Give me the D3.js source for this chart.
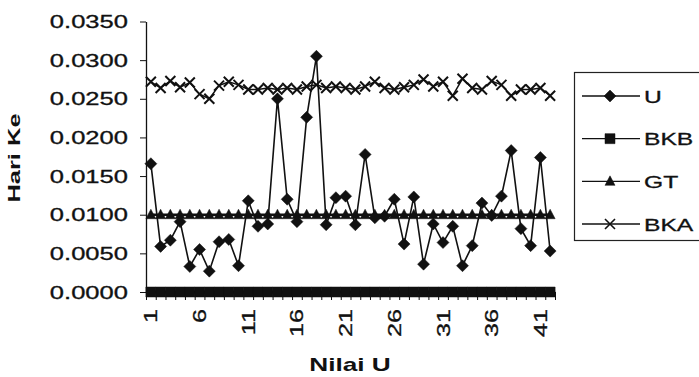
<!DOCTYPE html>
<html>
<head>
<meta charset="utf-8">
<script src="https://cdn.jsdelivr.net/npm/d3@7/dist/d3.min.js"></script>
<style>
  body { margin: 0; background: #fff; }
  svg { display: block; font-family: "Liberation Sans", Arial, sans-serif; }
</style>
</head>
<body>
<svg id="chart" width="699" height="377"></svg>
<script>
// day numbers on the category axis
var days = [1, 2, 3, 4, 5, 6, 7, 8, 9, 10, 11, 12, 13, 14, 15, 16, 17, 18, 19, 20, 21,
            22, 23, 24, 25, 26, 27, 28, 29, 30, 31, 32, 33, 34, 35, 36, 37, 38, 39, 40, 41, 42];

var seriesU = [0.0166, 0.0059, 0.0067, 0.0091, 0.0033, 0.0055, 0.0027, 0.0065, 0.0068, 0.0034,
               0.0118, 0.0085, 0.0088, 0.0250, 0.0120, 0.0091, 0.0226, 0.0305, 0.0087, 0.0122,
               0.0124, 0.0087, 0.0178, 0.0096, 0.0098, 0.0120, 0.0062, 0.0123, 0.0036, 0.0088,
               0.0064, 0.0085, 0.0034, 0.0060, 0.0115, 0.0099, 0.0124, 0.0183, 0.0082, 0.0060,
               0.0174, 0.0053];

var seriesBKB = [0, 0, 0, 0, 0, 0, 0, 0, 0, 0, 0, 0, 0, 0, 0, 0, 0, 0, 0, 0, 0,
                 0, 0, 0, 0, 0, 0, 0, 0, 0, 0, 0, 0, 0, 0, 0, 0, 0, 0, 0, 0, 0];

var seriesGT = [0.01, 0.01, 0.01, 0.01, 0.01, 0.01, 0.01, 0.01, 0.01, 0.01, 0.01, 0.01, 0.01, 0.01,
                0.01, 0.01, 0.01, 0.01, 0.01, 0.01, 0.01, 0.01, 0.01, 0.01, 0.01, 0.01, 0.01, 0.01,
                0.01, 0.01, 0.01, 0.01, 0.01, 0.01, 0.01, 0.01, 0.01, 0.01, 0.01, 0.01, 0.01, 0.01];

var seriesBKA = [0.0272, 0.0264, 0.0273, 0.0265, 0.0271, 0.0256, 0.0250, 0.0267, 0.0272, 0.0268,
                 0.0262, 0.0262, 0.0264, 0.0262, 0.0264, 0.0262, 0.0266, 0.0268, 0.0264, 0.0266,
                 0.0264, 0.0262, 0.0266, 0.0272, 0.0264, 0.0262, 0.0265, 0.0268, 0.0275, 0.0266,
                 0.0272, 0.0254, 0.0276, 0.0264, 0.0262, 0.0273, 0.0268, 0.0254, 0.0262, 0.0262,
                 0.0264, 0.0254];

var yTicks = [0, 0.005, 0.010, 0.015, 0.020, 0.025, 0.030, 0.035];
var xLabels = [1, 6, 11, 16, 21, 26, 31, 36, 41];
var legendNames = ["U", "BKB", "GT", "BKA"];

var svg = d3.select("#chart");

var x = d3.scaleLinear().domain([0.5, 42.5]).range([146, 555]);
var y = d3.scaleLinear().domain([0, 0.035]).range([292, 21.5]);
var fmt = d3.format(".4f");

// marker shapes
var markers = {
    U: "M0,-6L6,0L0,6L-6,0Z",
    BKB: "M-5,-5H5V5H-5Z",
    GT: "M0,-5.5L5,4L-5,4Z",
    BKA: "M-5,-5L5,5M-5,5L5,-5"
};

// y axis: line and ticks from d3, labels drawn by hand so they can be stretched
var yAxis = svg.append("g")
    .attr("transform", "translate(146,0)")
    .call(d3.axisLeft(y).tickValues(yTicks).tickSize(6).tickSizeOuter(0).tickFormat(""));
yAxis.select(".domain").attr("stroke", "#111").attr("stroke-width", 1.3);
yAxis.selectAll(".tick line").attr("stroke", "#111");

svg.append("g").selectAll("text")
    .data(yTicks)
    .enter().append("text")
    .attr("transform", function(d) { return "translate(128," + (y(d) + 6.5) + ") scale(1.42,1)"; })
    .attr("text-anchor", "end")
    .attr("font-size", 18)
    .attr("fill", "#111")
    .attr("stroke", "#111")
    .attr("stroke-width", 0.3)
    .text(function(d) { return fmt(d); });

// x axis: small ticks between categories
var xTickAxis = svg.append("g")
    .attr("transform", "translate(0,292)")
    .call(d3.axisBottom(x).tickValues(d3.range(0.5, 43, 1)).tickSize(8).tickSizeOuter(0).tickFormat(""));
xTickAxis.select(".domain").attr("stroke", "#111").attr("stroke-width", 1.3);
xTickAxis.selectAll(".tick line").attr("stroke", "#111");

// x axis labels, rotated
svg.append("g").selectAll("text")
    .data(xLabels)
    .enter().append("text")
    .attr("transform", function(d) { return "translate(" + (x(d) + 6.5) + ",309) rotate(-90) scale(1.4,1)"; })
    .attr("text-anchor", "end")
    .attr("font-size", 18)
    .attr("fill", "#111")
    .attr("stroke", "#111")
    .attr("stroke-width", 0.3)
    .text(function(d) { return d; });

function drawSeries(values, name, lineWidth, markerStroke) {
    var line = d3.line()
        .x(function(d, i) { return x(days[i]); })
        .y(function(d) { return y(d); });

    var g = svg.append("g");
    g.append("path")
        .datum(values)
        .attr("d", line)
        .attr("fill", "none")
        .attr("stroke", "#111")
        .attr("stroke-width", lineWidth);

    g.selectAll("path.mark")
        .data(values)
        .enter().append("path")
        .attr("class", "mark")
        .attr("d", markers[name])
        .attr("transform", function(d, i) { return "translate(" + x(days[i]) + "," + y(d) + ")"; })
        .attr("fill", markerStroke ? "none" : "#111")
        .attr("stroke", "#111")
        .attr("stroke-width", markerStroke || 0.5);
}

drawSeries(seriesBKA, "BKA", 1.5, 2);
drawSeries(seriesGT, "GT", 2.5);
drawSeries(seriesBKB, "BKB", 3);
drawSeries(seriesU, "U", 1.6);

// axis titles
svg.append("text")
    .attr("transform", "translate(350,371) scale(1.38,1)")
    .attr("text-anchor", "middle")
    .attr("font-size", 19)
    .attr("font-weight", "bold")
    .attr("fill", "#111")
    .text("Nilai U");

svg.append("text")
    .attr("transform", "translate(20,158) rotate(-90) scale(1.5,1)")
    .attr("text-anchor", "middle")
    .attr("font-size", 17)
    .attr("font-weight", "bold")
    .attr("fill", "#111")
    .text("Hari Ke");

// legend
var legend = svg.append("g");
legend.append("rect")
    .attr("x", 574.5)
    .attr("y", 72.5)
    .attr("width", 140)
    .attr("height", 168)
    .attr("fill", "#fff")
    .attr("stroke", "#222")
    .attr("stroke-width", 1.2);

var legendY = d3.scalePoint().domain(legendNames).range([96, 224]);

var item = legend.selectAll("g.item")
    .data(legendNames)
    .enter().append("g")
    .attr("class", "item")
    .attr("transform", function(d) { return "translate(0," + legendY(d) + ")"; });

item.append("line")
    .attr("x1", 582).attr("x2", 640)
    .attr("stroke", "#111")
    .attr("stroke-width", 1.4);

item.append("path")
    .attr("d", function(d) { return markers[d]; })
    .attr("transform", "translate(610,0)")
    .attr("fill", function(d) { return d === "BKA" ? "none" : "#111"; })
    .attr("stroke", "#111")
    .attr("stroke-width", function(d) { return d === "BKA" ? 1.6 : 0.5; });

item.append("text")
    .attr("transform", "translate(644,6.5) scale(1.45,1)")
    .attr("font-size", 17)
    .attr("fill", "#111")
    .attr("stroke", "#111")
    .attr("stroke-width", 0.3)
    .text(function(d) { return d; });
</script>
</body>
</html>
